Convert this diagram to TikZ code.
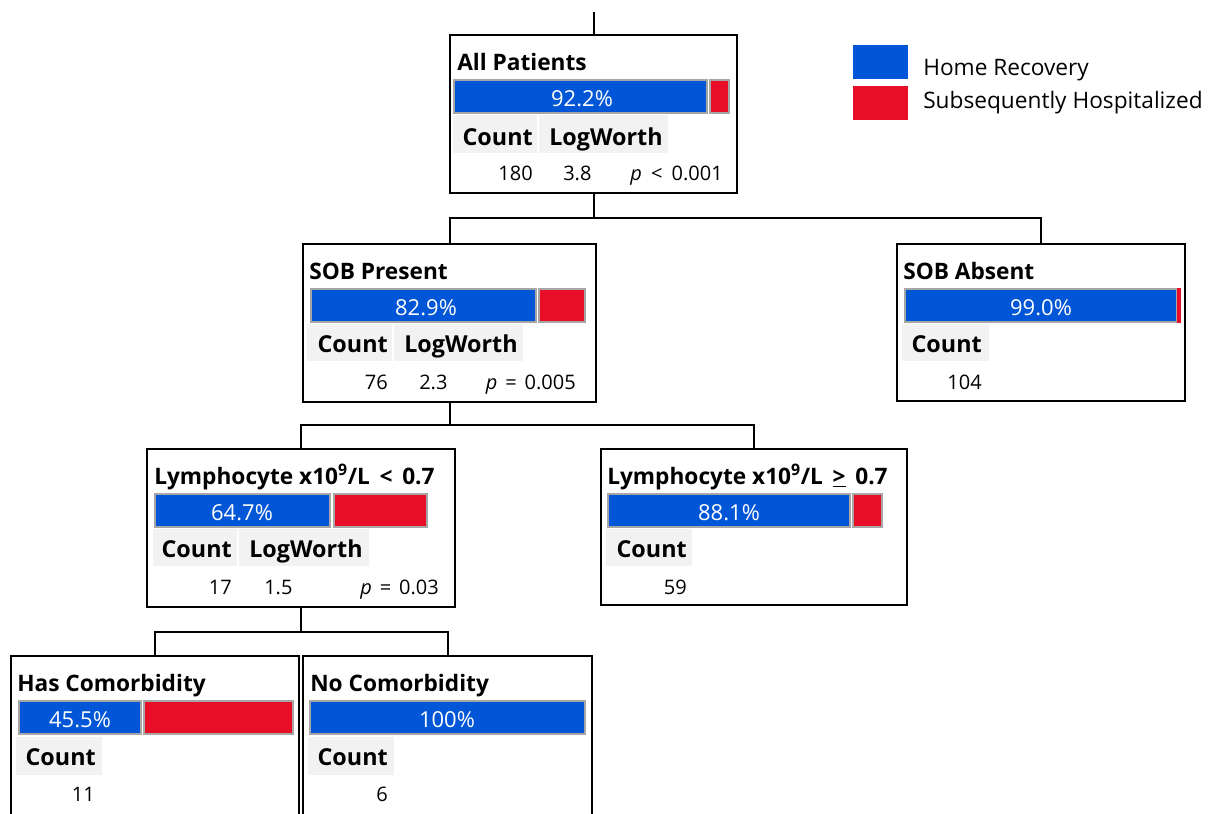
\documentclass[tikz,border=0pt]{standalone}
\usepackage{fontspec}
\setmainfont{Open Sans}
\usepackage{tikz}

\definecolor{homeblue}{RGB}{0,86,214}
\definecolor{hospred}{RGB}{232,14,40}
\definecolor{barline}{RGB}{166,166,166}
\definecolor{cellgray}{RGB}{242,242,242}

\tikzset{
  box/.style = {draw, line width=1.5pt, anchor=north west, inner sep=0pt, outer sep=0pt},
  link/.style = {line width=1.5pt},
  bluebar/.style = {fill=homeblue, draw=barline, line width=1.5pt},
  redbar/.style = {fill=hospred, draw=barline, line width=1.5pt},
  ttl/.style = {anchor=base west, inner sep=0pt, font=\bfseries\fontsize{17}{20}\selectfont},
  hdr/.style = {anchor=base west, inner sep=0pt, font=\bfseries\fontsize{17.5}{20}\selectfont},
  val/.style = {anchor=base west, inner sep=0pt, font=\fontsize{15}{18}\selectfont},
  pct/.style = {anchor=base, inner sep=0pt, text=white, font=\fontsize{16.5}{19}\selectfont},
  lgd/.style = {anchor=base west, inner sep=0pt, font=\fontsize{17}{20}\selectfont}
}

\begin{document}
\begin{tikzpicture}[x=0.75pt, y=-0.75pt]
\clip (0,0) rectangle (1214,814);

% all patients
\begin{scope}[shift={(450,35)}]
\node[box, minimum width=287*0.75pt, minimum height=158*0.75pt] (all) at (0,0) {};
\node[ttl] (all-t) at (7,35) {All Patients};
\draw[bluebar] (4,45) rectangle (257,78);
\draw[redbar] (260,45) rectangle (279,78);
\node[pct] (all-pct) at (132,71) {92.2\%};
\fill[cellgray] (3,80) rectangle (87,118);
\fill[cellgray] (89,80) rectangle (218,118);
\node[hdr, anchor=base east] (all-cnt) at (83,110) {Count};
\node[hdr] (all-lw) at (99,110) {LogWorth};
\node[val, anchor=base east] (all-n) at (83,145) {180};
\node[val] (all-lwv) at (113,145) {3.8};
\node[val, anchor=base east] (all-p) at (273,145) {\textit{p}\hspace{3pt} < \hspace{3pt}0.001};
\end{scope}

% shortness of breath
\begin{scope}[shift={(303,244)}]
\node[box, minimum width=293*0.75pt, minimum height=158*0.75pt] (sobp) at (0,0) {};
\node[ttl] (sobp-t) at (6,35) {SOB Present};
\draw[bluebar] (8,45) rectangle (233,78);
\draw[redbar] (236,45) rectangle (282,78);
\node[pct] (sobp-pct) at (123,71) {82.9\%};
\fill[cellgray] (4,80) rectangle (89,117);
\fill[cellgray] (91,80) rectangle (220,117);
\node[hdr, anchor=base east] (sobp-cnt) at (85,108) {Count};
\node[hdr] (sobp-lw) at (101,108) {LogWorth};
\node[val, anchor=base east] (sobp-n) at (85,145) {76};
\node[val] (sobp-lwv) at (116,145) {2.3};
\node[val, anchor=base east] (sobp-p) at (273,145) {\textit{p}\hspace{2pt} = \hspace{2pt}0.005};
\end{scope}

\begin{scope}[shift={(897,244)}]
\node[box, minimum width=288*0.75pt, minimum height=157*0.75pt] (soba) at (0,0) {};
\node[ttl] (soba-t) at (6,35) {SOB Absent};
\draw[bluebar] (8,45) rectangle (280,78);
\fill[hospred] (280,44) rectangle (284,79);
\node[pct] (soba-pct) at (144,71) {99.0\%};
\fill[cellgray] (5,80) rectangle (92,117);
\node[hdr, anchor=base east] (soba-cnt) at (85,108) {Count};
\node[val, anchor=base east] (soba-n) at (85,145) {104};
\end{scope}

% lymphocytes
\begin{scope}[shift={(147,449)}]
\node[box, minimum width=308*0.75pt, minimum height=158*0.75pt] (lymlo) at (0,0) {};
\node[ttl] (lymlo-t) at (7,35) {Lymphocyte x10\textsuperscript{9}/L \,<\, 0.7};
\draw[bluebar] (8,45) rectangle (183,78);
\draw[redbar] (187,45) rectangle (280,78);
\node[pct] (lymlo-pct) at (95,71) {64.7\%};
\fill[cellgray] (6,80) rectangle (90,117);
\fill[cellgray] (92,80) rectangle (222,117);
\node[hdr, anchor=base east] (lymlo-cnt) at (85,108) {Count};
\node[hdr] (lymlo-lw) at (102,108) {LogWorth};
\node[val, anchor=base east] (lymlo-n) at (85,145) {17};
\node[val] (lymlo-lwv) at (117,145) {1.5};
\node[val, anchor=base east] (lymlo-p) at (292,145) {\textit{p}\hspace{2pt} = \hspace{2pt}0.03};
\end{scope}

\begin{scope}[shift={(601,449)}]
\node[box, minimum width=306*0.75pt, minimum height=156*0.75pt] (lymhi) at (0,0) {};
\node[ttl] (lymhi-t) at (6,35) {Lymphocyte x10\textsuperscript{9}/L \,\underline{>}\, 0.7};
\draw[bluebar] (7,45) rectangle (249,78);
\draw[redbar] (252,45) rectangle (281,78);
\node[pct] (lymhi-pct) at (128,71) {88.1\%};
\fill[cellgray] (5,80) rectangle (91,117);
\node[hdr, anchor=base east] (lymhi-cnt) at (86,108) {Count};
\node[val, anchor=base east] (lymhi-n) at (86,145) {59};
\end{scope}

% comorbidity
\begin{scope}[shift={(11,656)}]
\node[box, minimum width=288*0.75pt, minimum height=180*0.75pt] (comy) at (0,0) {};
\node[ttl] (comy-t) at (6,35) {Has Comorbidity};
\draw[bluebar] (8,45) rectangle (130,78);
\draw[redbar] (133,45) rectangle (282,78);
\node[pct] (comy-pct) at (69,71) {45.5\%};
\fill[cellgray] (5,81) rectangle (91,119);
\node[hdr, anchor=base east] (comy-cnt) at (85,109) {Count};
\node[val, anchor=base east] (comy-n) at (84,145) {11};
\end{scope}

\begin{scope}[shift={(303,656)}]
\node[box, minimum width=289*0.75pt, minimum height=180*0.75pt] (comn) at (0,0) {};
\node[ttl] (comn-t) at (7,35) {No Comorbidity};
\draw[bluebar] (7,45) rectangle (282,78);
\node[pct] (comn-pct) at (144,71) {100\%};
\fill[cellgray] (5,81) rectangle (91,119);
\node[hdr, anchor=base east] (comn-cnt) at (85,109) {Count};
\node[val, anchor=base east] (comn-n) at (85,145) {6};
\end{scope}

% tree links
\coordinate (stub) at (593.5,12);
\draw[link] (stub) -- (all.north);
\draw[link] (all.south) -- ++(0,25) coordinate (j1);
\draw[link] (sobp.north) |- (j1) -| (soba.north);
\draw[link] (sobp.south) -- ++(0,23) coordinate (j2);
\draw[link] (lymlo.north) |- (j2) -| (lymhi.north);
\draw[link] (lymlo.south) -- ++(0,25) coordinate (j3);
\draw[link] (comy.north) |- (j3) -| (comn.north);

% legend
\fill[homeblue] (853,45) rectangle (908,79);
\fill[hospred] (853,86) rectangle (908,120);
\node[lgd] (lgd-home) at (923,75) {Home Recovery};
\node[lgd] (lgd-hosp) at (923,108) {Subsequently Hospitalized};
\end{tikzpicture}
\end{document}
